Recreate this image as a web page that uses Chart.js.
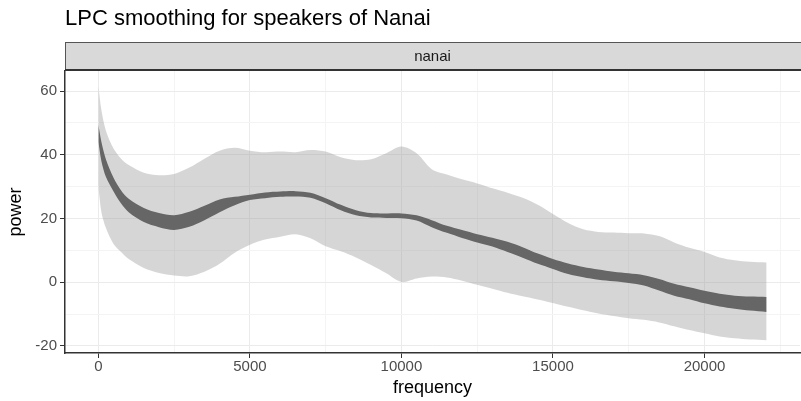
<!DOCTYPE html>
<html>
<head>
<meta charset="utf-8">
<script src="https://cdn.jsdelivr.net/npm/chart.js@4/dist/chart.umd.min.js"></script>
<style>
  body { margin: 0; background: #fff; }
  #wrap { width: 801px; height: 401px; }
</style>
</head>
<body>
<div id="wrap"><canvas id="myChart"></canvas></div>
<script>
const chartTitle = 'LPC smoothing for speakers of Nanai';
const facetLabel = 'nanai';

const frequency = [0, 100, 250, 500, 750, 1000, 1500, 2000, 2500, 3000, 3500, 4000, 4500, 5000,
  5500, 6000, 6500, 7000, 7500, 8000, 8500, 9000, 9500, 10000, 10500, 11000, 11500, 12000,
  12500, 13000, 13500, 14000, 14500, 15000, 15500, 16000, 16500, 17000, 17500, 18000, 18500,
  19000, 19500, 20000, 20500, 21000, 21500, 22050];

// wide light ribbon
const outerUpper = [61.5, 54, 47.5, 42, 38.8, 36.8, 34.4, 33.6, 34, 36, 38.8, 41.3, 42.2, 41.3,
  40.8, 41, 40.8, 41.5, 41, 39.2, 38.3, 38.6, 40.5, 42.6, 40.5, 35.5, 33.8, 32.3,
  31, 29.5, 28.1, 26.5, 24.3, 21.4, 18.6, 16.6, 15.8, 15.6, 15.4, 15.3, 14.5,
  12.5, 10.8, 9.5, 7.8, 6.9, 6.4, 6.2];
const outerLower = [30, 22, 17, 12, 9.5, 7.3, 4.5, 2.9, 2.1, 1.9, 3.3, 5.8, 9.3, 11.8,
  13.4, 14.3, 15.1, 13.8, 11.3, 9.7, 7.8, 5.4, 2.8, 0.1, 1.2, 1.8, 1.5, 0.5,
  -0.8, -2, -3.3, -4.4, -5.4, -6.5, -7.7, -8.8, -9.8, -10.6, -11.3, -11.8, -12.6,
  -13.8, -15, -16, -17, -17.6, -18, -18.2];

// narrow dark ribbon
const innerUpper = [49.4, 44, 38.5, 32.8, 28.8, 26.2, 23.3, 21.7, 21, 22.1, 24, 26, 26.8, 27.5,
  28.2, 28.5, 28.6, 28.1, 26.4, 24.3, 22.6, 21.7, 21.6, 21.6, 21, 19.5, 17.7, 16.4,
  15.1, 14, 12.7, 11, 9, 7.3, 5.9, 4.8, 4, 3.3, 2.8, 2.2, 1,
  -0.5, -1.6, -2.7, -3.6, -4.2, -4.5, -4.6];
const innerLower = [44, 38, 33, 28.5, 24.7, 22, 18.9, 17.3, 16.4, 17.4, 19.5, 22, 24.2, 25.8,
  26.4, 26.8, 26.9, 26.5, 24.8, 22.6, 21, 20.3, 20.2, 20.1, 19.4, 17.3, 15.5, 13.9,
  12.5, 11.2, 9.5, 7.7, 5.8, 4.2, 2.6, 1.6, 0.8, 0.3, -0.2, -1, -2.6,
  -4.2, -5.3, -6.6, -7.6, -8.3, -8.9, -9.3];

const xMajor = [0, 5000, 10000, 15000, 20000];
const xMinor = [2500, 7500, 12500, 17500, 22500];
const yMajor = [-20, 0, 20, 40, 60];
const yMinor = [-10, 10, 30, 50];

Chart.defaults.font.family = '"Liberation Sans", Arial, sans-serif';

function toXY(values) {
  return values.map(function(v, i) { return {x: frequency[i], y: v}; });
}

function tickList(major, minor) {
  return major.concat(minor).sort(function(a, b) { return a - b; }).map(function(v) { return {value: v}; });
}

// title + facet strip, drawn in the space kept free by layout padding
const stripPlugin = {
  id: 'strip',
  afterDraw(chart) {
    const ctx = chart.ctx;
    const area = chart.chartArea;
    ctx.save();
    ctx.fillStyle = '#000';
    ctx.font = '22px "Liberation Sans", Arial, sans-serif';
    ctx.textAlign = 'left';
    ctx.textBaseline = 'alphabetic';
    ctx.fillText(chartTitle, area.left, 25);

    ctx.fillStyle = '#d9d9d9';
    ctx.fillRect(area.left, 42, chart.width - area.left, 29);
    ctx.strokeStyle = '#555';
    ctx.lineWidth = 1;
    ctx.beginPath();
    ctx.moveTo(area.left, 42.5);
    ctx.lineTo(chart.width, 42.5);
    ctx.moveTo(area.left + 0.5, 42);
    ctx.lineTo(area.left + 0.5, 71);
    ctx.stroke();
    ctx.strokeStyle = '#333';
    ctx.lineWidth = 2;
    ctx.beginPath();
    ctx.moveTo(area.left, 70);
    ctx.lineTo(chart.width, 70);
    ctx.stroke();

    ctx.fillStyle = '#1a1a1a';
    ctx.font = '15px "Liberation Sans", Arial, sans-serif';
    ctx.textAlign = 'center';
    ctx.fillText(facetLabel, (area.left + area.right) / 2, 60.5);
    ctx.restore();
  }
};

const config = {
  type: 'line',
  data: {
    datasets: [
      {data: toXY(outerUpper), fill: '+1', backgroundColor: 'rgba(153,153,153,0.4)', order: 2},
      {data: toXY(outerLower), fill: false, order: 2},
      {data: toXY(innerUpper), fill: '+1', backgroundColor: '#666666', order: 1},
      {data: toXY(innerLower), fill: false, order: 1}
    ]
  },
  options: {
    responsive: true,
    maintainAspectRatio: false,
    animation: false,
    layout: {padding: {top: 71, right: 1, left: 0, bottom: 0}},
    plugins: {legend: {display: false}, tooltip: {enabled: false}},
    elements: {
      point: {radius: 0},
      line: {borderWidth: 0, borderColor: 'rgba(0,0,0,0)', tension: 0.3}
    },
    scales: {
      x: {
        type: 'linear',
        min: -1102,
        max: 23152,
        afterBuildTicks: function(scale) { scale.ticks = tickList(xMajor, xMinor); },
        afterFit: function(scale) { scale.height = 48; },
        ticks: {
          autoSkip: false,
          maxRotation: 0,
          padding: 0,
          color: '#4d4d4d',
          font: {size: 15},
          callback: function(v) { return xMajor.includes(v) ? String(v) : ''; }
        },
        grid: {
          color: function(c) { return xMajor.includes(c.tick.value) ? '#ebebeb' : '#f4f4f4'; },
          lineWidth: 1,
          tickLength: 5,
          tickColor: function(c) { return xMajor.includes(c.tick.value) ? '#333333' : 'rgba(0,0,0,0)'; }
        },
        border: {color: '#333333', width: 1.5},
        title: {display: true, text: 'frequency', color: '#000', font: {size: 18}, padding: {top: 0, bottom: 2}}
      },
      y: {
        min: -22.2,
        max: 66.3,
        afterBuildTicks: function(scale) { scale.ticks = tickList(yMajor, yMinor); },
        afterFit: function(scale) { scale.width = 65; },
        ticks: {
          padding: 3,
          color: '#4d4d4d',
          font: {size: 15},
          callback: function(v) { return yMajor.includes(v) ? String(v) : ''; }
        },
        grid: {
          color: function(c) { return yMajor.includes(c.tick.value) ? '#ebebeb' : '#f4f4f4'; },
          lineWidth: 1,
          tickLength: 5,
          tickColor: function(c) { return yMajor.includes(c.tick.value) ? '#333333' : 'rgba(0,0,0,0)'; }
        },
        border: {color: '#333333', width: 1.5},
        title: {display: true, text: 'power', color: '#000', font: {size: 18}, padding: {top: 5, bottom: 0}}
      }
    }
  },
  plugins: [stripPlugin]
};

var myChart = new Chart(document.getElementById('myChart'), config);
</script>
</body>
</html>
